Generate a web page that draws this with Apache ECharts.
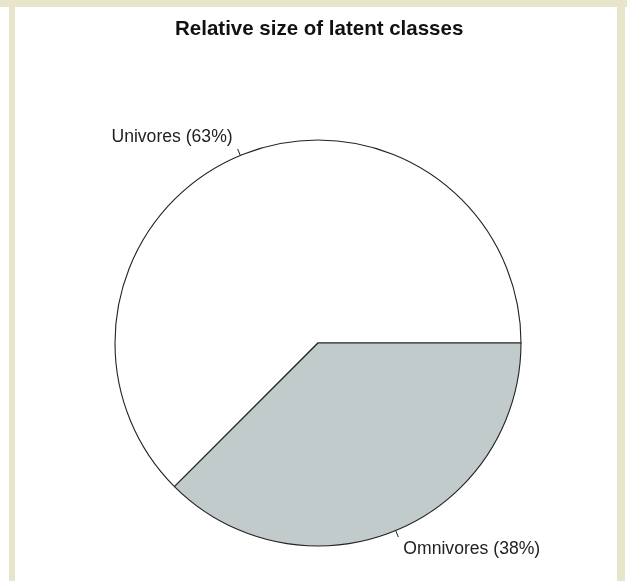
<!DOCTYPE html>
<html>
<head>
<meta charset="utf-8">
<script src="https://cdn.jsdelivr.net/npm/echarts@6/dist/echarts.min.js"></script>
<style>
html,body{margin:0;padding:0;background:#fff;}
#wrap{position:relative;width:627px;height:581px;overflow:hidden;}
#chart{position:absolute;left:0;top:0;width:627px;height:581px;}
.f{position:absolute;background:#e8e5cd;pointer-events:none;}
</style>
</head>
<body>
<div id="wrap">
<div id="chart"></div>
<div class="f" style="left:0;top:0;width:627px;height:7px;"></div>
<div class="f" style="left:9px;top:0;width:6px;height:581px;"></div>
<div class="f" style="left:617px;top:0;width:8px;height:581px;"></div>
</div>
<script>
const titleText = 'Relative size of latent classes';
const categories = ['Univores', 'Omnivores'];
const shares = [62.5, 37.5];
const labelsPct = ['63%', '38%'];
const colors = ['#ffffff', '#c2cbcb'];

const chart = echarts.init(document.getElementById('chart'), null, {renderer: 'canvas'});
chart.setOption({
  backgroundColor: '#ffffff',
  animation: false,
  title: {
    text: titleText,
    left: 175,
    top: 19,
    padding: 0,
    textStyle: {fontFamily: 'Liberation Sans, Arial, sans-serif', fontWeight: 'bold', fontSize: 20.5, color: '#111'}
  },
  series: [{
    type: 'pie',
    center: [318, 343],
    radius: [0, 203],
    startAngle: 0,
    clockwise: false,
    avoidLabelOverlap: false,
    silent: true,
    data: categories.map((c, i) => ({
      name: c,
      value: shares[i],
      itemStyle: {color: colors[i]},
      label: {formatter: c + ' (' + labelsPct[i] + ')'}
    })),
    itemStyle: {borderColor: '#222', borderWidth: 1.1},
    label: {
      show: true,
      position: 'outside',
      fontFamily: 'Liberation Sans, Arial, sans-serif',
      fontSize: 17.6,
      color: '#222',
      distanceToLabelLine: 0
    },
    labelLine: {show: true, length: 20, length2: 0, lineStyle: {color: '#222', width: 1}},
    labelLayout: function (p) {
      const pts = p.labelLinePoints;
      if (!pts) return {};
      const a = pts[0], b = pts[1];
      const t = 0.35;
      const m = [a[0] + (b[0] - a[0]) * t, a[1] + (b[1] - a[1]) * t];
      return {labelLinePoints: [a, m, m]};
    }
  }]
});
</script>
</body>
</html>
